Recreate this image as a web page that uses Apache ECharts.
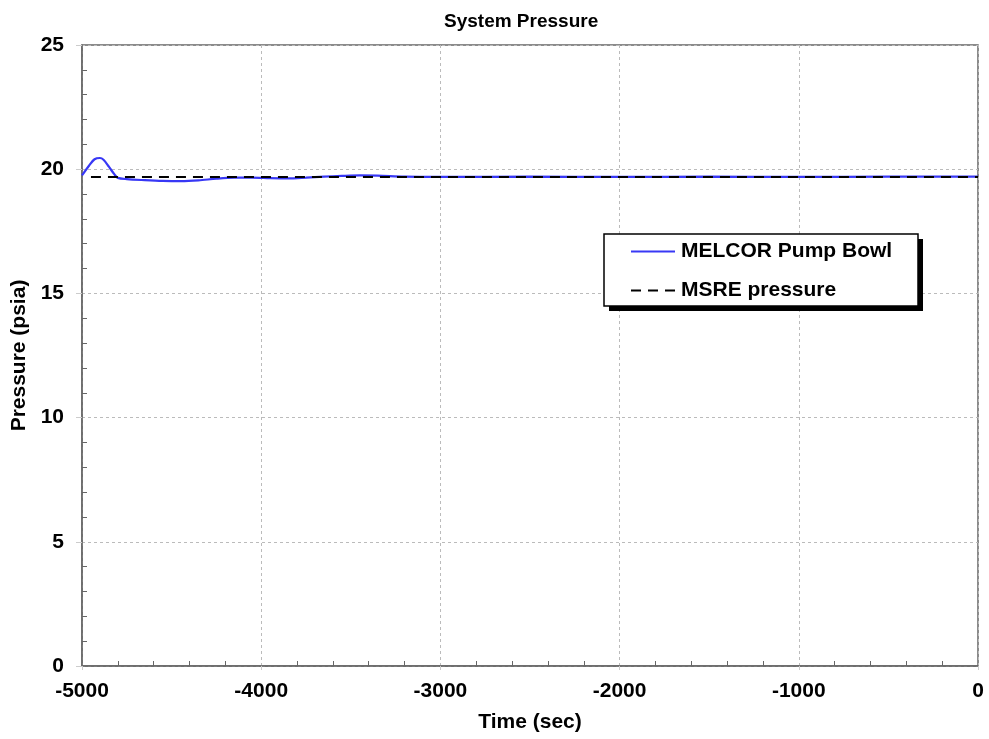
<!DOCTYPE html>
<html><head><meta charset="utf-8">
<script src="https://cdn.jsdelivr.net/npm/echarts@6/dist/echarts.min.js"></script>
<style>html,body{margin:0;padding:0;background:#fff}#c{width:989px;height:739px}</style>
</head><body><div id="c"></div>
<script>
const melcorTime = [-5000,-4960,-4930,-4900,-4880,-4850,-4820,-4800,-4750,-4650,-4550,-4450,-4350,-4250,-4150,-4050,-3950,-3850,-3750,-3650,-3550,-3450,-3350,-3200,-3000,-2500,-2000,-1500,-1000,-500,0];
const melcorPressure = [19.75,20.15,20.40,20.45,20.38,20.10,19.80,19.65,19.60,19.56,19.53,19.52,19.55,19.62,19.66,19.66,19.64,19.63,19.66,19.70,19.73,19.75,19.74,19.70,19.69,19.70,19.69,19.70,19.69,19.70,19.70];
const msreTime = [-4950, 0];
const msrePressure = [19.69, 19.69];
const xTicks = [-5000,-4000,-3000,-2000,-1000,0];
const yTicks = [0,5,10,15,20,25];

const font = 'Liberation Sans, Arial, sans-serif';
const txt = {fontFamily:font,fontSize:21,fontWeight:'bold',color:'#000'};
const grey = '#666';
const chart = echarts.init(document.getElementById('c'), null, {renderer:'canvas'});
const minorX = {type:'value',min:xTicks[0],max:xTicks[xTicks.length-1],interval:1000,position:'bottom',
  axisLine:{show:false,onZero:false},axisLabel:{show:false},splitLine:{show:false},
  axisTick:{show:false,inside:true},minorTick:{show:true,splitNumber:5,length:5,lineStyle:{color:grey}}};
const minorY = {type:'value',min:yTicks[0],max:yTicks[yTicks.length-1],interval:5,position:'left',
  axisLine:{show:false,onZero:false},axisLabel:{show:false},splitLine:{show:false},
  axisTick:{show:false,inside:true},minorTick:{show:true,splitNumber:5,length:5,lineStyle:{color:grey}}};
chart.setOption({
  animation:false,
  backgroundColor:'#fff',
  title:{text:'System Pressure',left:439,top:7,textStyle:{fontFamily:font,fontSize:19,fontWeight:'bold',color:'#000'}},
  grid:{left:82,right:11,top:45,bottom:73,show:true,borderColor:grey,borderWidth:1.5,backgroundColor:'#fff'},
  graphic:[
    {type:'rect',z:10,shape:{x:609,y:239,width:314,height:72},style:{fill:'#000'}},
    {type:'rect',z:11,shape:{x:604,y:234,width:314,height:72},style:{fill:'#fff',stroke:'#000',lineWidth:1.5}}
  ],
  legend:{
    orient:'vertical',left:630,top:241,z:20,
    padding:0,itemGap:18,itemWidth:44,itemHeight:20,
    itemStyle:{opacity:0},
    textStyle:Object.assign({},txt,{padding:[0,0,0,1]}),
    data:['MELCOR Pump Bowl','MSRE pressure']
  },
  xAxis:[{
    type:'value',min:xTicks[0],max:xTicks[xTicks.length-1],interval:1000,position:'bottom',
    name:'Time (sec)',nameLocation:'middle',nameGap:46,
    nameTextStyle:txt,
    axisLine:{show:true,onZero:false,lineStyle:{color:grey,width:1.5}},
    axisTick:{show:true,inside:false,length:4,lineStyle:{color:'#ccc'}},
    axisLabel:Object.assign({},txt,{margin:15,formatter:v=>String(v)}),
    splitLine:{show:true,lineStyle:{color:'#bbb',type:[3,3],width:1}}
  }, minorX],
  yAxis:[{
    type:'value',min:yTicks[0],max:yTicks[yTicks.length-1],interval:5,position:'left',
    name:'Pressure (psia)',nameLocation:'middle',nameGap:51,nameRotate:90,
    nameTextStyle:txt,
    axisLine:{show:true,onZero:false,lineStyle:{color:grey,width:1.5}},
    axisTick:{show:true,inside:false,length:6,lineStyle:{color:'#ccc'}},
    axisLabel:Object.assign({},txt,{margin:18,formatter:v=>String(v)}),
    splitLine:{show:true,lineStyle:{color:'#bbb',type:[3,3],width:1}}
  }, minorY],
  series:[
    {name:'MELCOR Pump Bowl',type:'line',smooth:0.3,symbol:'none',xAxisIndex:0,yAxisIndex:0,
     data:melcorTime.map((t,i)=>[t,melcorPressure[i]]),
     lineStyle:{color:'#3838f5',width:2.2},itemStyle:{color:'#3838f5'},z:3},
    {name:'MSRE pressure',type:'line',symbol:'none',xAxisIndex:0,yAxisIndex:0,
     data:msreTime.map((t,i)=>[t,msrePressure[i]]),
     lineStyle:{color:'#000',width:2,type:[10,7]},itemStyle:{color:'#000'},z:4}
  ]
});
</script></body></html>
